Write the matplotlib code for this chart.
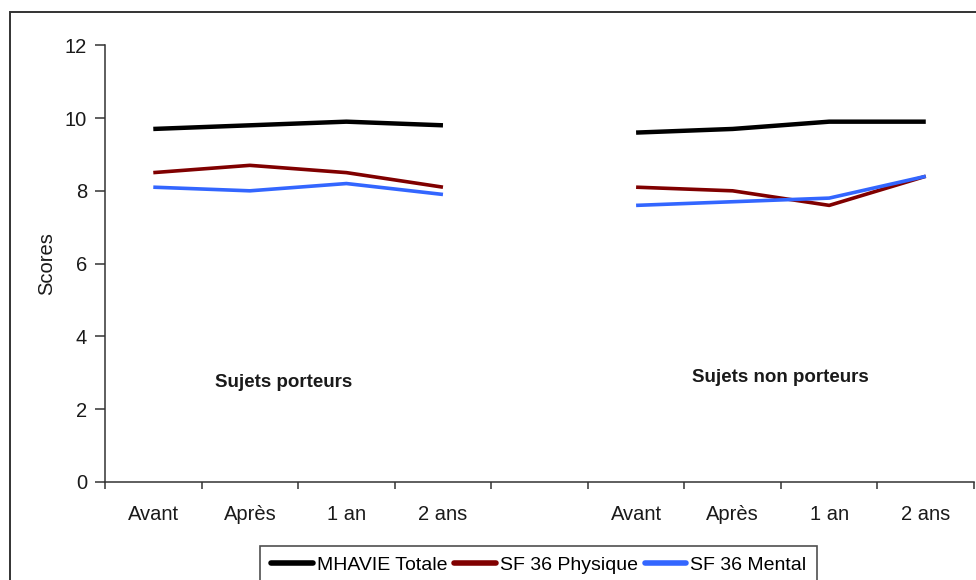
import matplotlib.pyplot as plt
from matplotlib.patches import Rectangle

plt.rcParams['font.family'] = ['Liberation Sans', 'DejaVu Sans']

# Périodes de mesure et groupes
periodes = ['Avant', 'Après', '1 an', '2 ans']
groupes = ['Sujets porteurs', 'Sujets non porteurs']

# Scores par groupe (porteurs, non porteurs)
mhavie_porteurs = [9.7, 9.8, 9.9, 9.8]
sf36_phys_porteurs = [8.5, 8.7, 8.5, 8.1]
sf36_ment_porteurs = [8.1, 8.0, 8.2, 7.9]

mhavie_non_porteurs = [9.6, 9.7, 9.9, 9.9]
sf36_phys_non_porteurs = [8.1, 8.0, 7.6, 8.4]
sf36_ment_non_porteurs = [7.6, 7.7, 7.8, 8.4]

series = [
    ('MHAVIE Totale', mhavie_porteurs, mhavie_non_porteurs, '#000000', 3.2),
    ('SF 36 Physique', sf36_phys_porteurs, sf36_phys_non_porteurs, '#800000', 2.6),
    ('SF 36 Mental', sf36_ment_porteurs, sf36_ment_non_porteurs, '#3366ff', 2.6),
]

fig = plt.figure(figsize=(9.76, 5.8), dpi=100)
ax = fig.add_axes([0.1076, 0.169, 0.8904, 0.753])

x1 = list(range(len(periodes)))
x2 = [i + len(periodes) + 1 for i in x1]

for nom, v1, v2, couleur, lw in series:
    ax.plot(x1, v1, color=couleur, lw=lw, label=nom, solid_capstyle='butt')
    ax.plot(x2, v2, color=couleur, lw=lw, solid_capstyle='butt')

ax.set_xlim(-0.5, 8.5)
ax.set_ylim(0, 12)
ax.set_yticks(range(0, 13, 2))

# Graduations aux limites des catégories, étiquettes au centre
ax.set_xticks([i - 0.5 for i in range(10)])
ax.set_xticklabels([])
ax.set_xticks(x1 + x2, minor=True)
ax.set_xticklabels(periodes + periodes, minor=True)
ax.tick_params(axis='x', which='major', length=5, width=1.1, color='#333333', direction='out')
ax.tick_params(axis='x', which='minor', length=0, pad=16.5, labelsize=14.5, labelcolor='#1a1a1a')
ax.tick_params(axis='y', length=7, width=1.1, color='#333333', pad=6, labelsize=14.5, labelcolor='#1a1a1a')

for s in ['top', 'right']:
    ax.spines[s].set_visible(False)
for s in ['left', 'bottom']:
    ax.spines[s].set_color('#333333')
    ax.spines[s].set_linewidth(1.1)

ax.set_ylabel('Scores', fontsize=14.5, color='#1a1a1a', labelpad=6)

ax.text(1.35, 2.72, groupes[0], fontsize=13.5, fontweight='bold', ha='center', va='center', color='#1a1a1a')
ax.text(6.49, 2.88, groupes[1], fontsize=13.5, fontweight='bold', ha='center', va='center', color='#1a1a1a')

leg = fig.legend(loc='upper center', bbox_to_anchor=(0.552, 0.059), ncol=3, fontsize=14,
                 frameon=True, fancybox=False, handlelength=2.15, handletextpad=0.2,
                 columnspacing=0.35, borderpad=0.55, borderaxespad=0)
leg.get_frame().set_edgecolor('#222222')
leg.get_frame().set_linewidth(1.2)
for line in leg.get_lines():
    line.set_linewidth(4)
    line.set_solid_capstyle('round')

fig.patches.append(Rectangle((10 / 976, -0.2), 1.2, 1.2 - 12 / 580, transform=fig.transFigure,
                             fill=False, edgecolor='#333333', linewidth=1.4))

fig.savefig('out.png', dpi=100)
